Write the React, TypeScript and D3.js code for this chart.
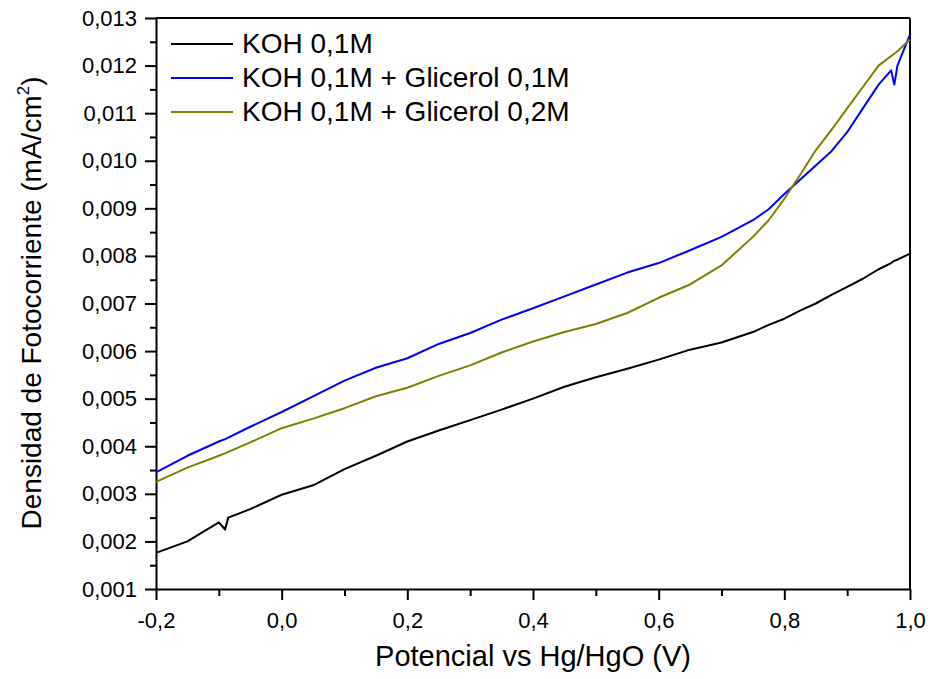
import React, { useEffect, useRef } from 'react';
import * as d3 from 'd3';

// potencial (V) vs densidad de fotocorriente (mA/cm2)
const potencial = [-0.2, -0.15, -0.1, -0.09, -0.085, -0.05, 0.0, 0.05, 0.1, 0.15, 0.2, 0.25, 0.3, 0.35, 0.4, 0.45, 0.5, 0.55, 0.6, 0.65, 0.7, 0.75, 0.775, 0.8, 0.825, 0.85, 0.875, 0.9, 0.925, 0.95, 0.97, 0.975, 0.98, 1.0];

const koh = [0.00176, 0.00200, 0.00240, 0.00225, 0.00250, 0.00268, 0.00298, 0.00318, 0.00352, 0.00380, 0.00410, 0.00433, 0.00455, 0.00477, 0.00500, 0.00525, 0.00545, 0.00563, 0.00582, 0.00603, 0.00618, 0.00640, 0.00655, 0.00668, 0.00685, 0.00700, 0.00718, 0.00735, 0.00752, 0.00772, 0.00785, 0.00790, 0.00792, 0.00805];

const glicerol01 = [0.00345, 0.00380, 0.00410, 0.00415, 0.00418, 0.00441, 0.00472, 0.00505, 0.00538, 0.00565, 0.00585, 0.00615, 0.00638, 0.00666, 0.00690, 0.00715, 0.00740, 0.00765, 0.00785, 0.00812, 0.00840, 0.00875, 0.00898, 0.00930, 0.00960, 0.00990, 0.01020, 0.01060, 0.01110, 0.01160, 0.01190, 0.01160, 0.01200, 0.01265];

const glicerol02 = [0.00325, 0.00355, 0.00380, 0.00385, 0.00388, 0.00408, 0.00438, 0.00458, 0.00480, 0.00505, 0.00523, 0.00548, 0.00570, 0.00597, 0.00620, 0.00640, 0.00657, 0.00680, 0.00712, 0.00740, 0.00780, 0.00840, 0.00875, 0.00920, 0.00970, 0.01022, 0.01065, 0.01110, 0.01155, 0.01200, 0.01220, 0.01225, 0.01230, 0.01255];

const seriesNames = ['KOH 0,1M', 'KOH 0,1M + Glicerol 0,1M', 'KOH 0,1M + Glicerol 0,2M'];
const seriesColors = ['#000000', '#0000ff', '#808000'];

const xTicks = [-0.2, 0.0, 0.2, 0.4, 0.6, 0.8, 1.0];
const yTicks = [0.001, 0.002, 0.003, 0.004, 0.005, 0.006, 0.007, 0.008, 0.009, 0.010, 0.011, 0.012, 0.013];

const W = 928;
const H = 679;
const margin = { top: 18, right: 18, bottom: 90, left: 156 };
const FONT = 'Arial, "Liberation Sans", sans-serif';

export default function App() {
  const ref = useRef<SVGSVGElement>(null);

  useEffect(() => {
    const svg = d3.select(ref.current);
    svg.selectAll('*').remove();

    const width = W - margin.left - margin.right;
    const height = H - margin.top - margin.bottom;

    const x = d3.scaleLinear().domain([-0.2, 1.0]).range([0, width]);
    const y = d3.scaleLinear().domain([0.001, 0.013]).range([height, 0]);

    const g = svg.append('g').attr('transform', `translate(${margin.left},${margin.top})`);

    const comma = (f: string) => (d: any) => d3.format(f)(d).replace('.', ',').replace('−', '-');

    // minor ticks
    const xMinor = d3.range(-0.1, 1.0, 0.2);
    const yMinor = d3.range(0.0015, 0.013, 0.001);

    g.append('g')
      .attr('transform', `translate(0,${height})`)
      .call(d3.axisBottom(x).tickValues(xMinor).tickSize(7).tickFormat(() => ''))
      .call(a => a.select('.domain').remove());
    g.append('g')
      .call(d3.axisLeft(y).tickValues(yMinor).tickSize(6).tickFormat(() => ''))
      .call(a => a.select('.domain').remove());

    const xAxis = g.append('g')
      .attr('transform', `translate(0,${height})`)
      .call(d3.axisBottom(x).tickValues(xTicks).tickSize(11).tickSizeOuter(0).tickPadding(12).tickFormat(comma('.1f')));
    const yAxis = g.append('g')
      .call(d3.axisLeft(y).tickValues(yTicks).tickSize(11).tickSizeOuter(0).tickPadding(8).tickFormat(comma('.3f')));

    [xAxis, yAxis].forEach(a => {
      a.selectAll('text').attr('font-family', FONT).attr('font-size', 22).attr('fill', '#000');
    });
    g.selectAll('.tick line').attr('stroke', '#000').attr('stroke-width', 2);
    g.selectAll('.domain').attr('stroke', '#000').attr('stroke-width', 2);

    // frame top/right
    g.append('line').attr('x1', 0).attr('x2', width).attr('y1', 0).attr('y2', 0)
      .attr('stroke', '#000').attr('stroke-width', 2);
    g.append('line').attr('x1', width).attr('x2', width).attr('y1', 0).attr('y2', height)
      .attr('stroke', '#000').attr('stroke-width', 2);

    const line = d3.line<number>()
      .x((_, i) => x(potencial[i]))
      .y(d => y(d));

    [koh, glicerol01, glicerol02].forEach((s, k) => {
      g.append('path')
        .datum(s)
        .attr('d', line)
        .attr('fill', 'none')
        .attr('stroke', seriesColors[k])
        .attr('stroke-width', 2)
        .attr('stroke-linejoin', 'round');
    });

    // legend
    const leg = svg.append('g');
    seriesNames.forEach((n, i) => {
      const ly = 44 + i * 34;
      leg.append('line').attr('x1', 171).attr('x2', 233).attr('y1', ly).attr('y2', ly)
        .attr('stroke', seriesColors[i]).attr('stroke-width', 2);
      leg.append('text').attr('x', 242).attr('y', ly + 9)
        .attr('font-family', FONT).attr('font-size', 28).attr('fill', '#000')
        .text(n);
    });

    // axis titles
    svg.append('text')
      .attr('x', 533).attr('y', 666)
      .attr('text-anchor', 'middle')
      .attr('font-family', FONT).attr('font-size', 29)
      .text('Potencial vs Hg/HgO (V)');

    const yt = svg.append('text')
      .attr('transform', `translate(41,303) rotate(-90)`)
      .attr('text-anchor', 'middle')
      .attr('font-family', FONT).attr('font-size', 28);
    yt.append('tspan').text('Densidad de Fotocorriente (mA/cm');
    yt.append('tspan').attr('font-size', 17).attr('dy', -12).text('2');
    yt.append('tspan').attr('dy', 12).text(')');
  }, []);

  return (
    <svg ref={ref} width={W} height={H}
      style={{ position: 'absolute', left: 0, top: 0, background: '#fff' }} />
  );
}
